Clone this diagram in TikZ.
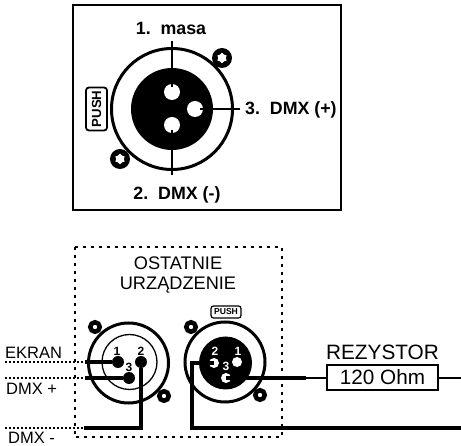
\documentclass[tikz,border=0pt]{standalone}
\usepackage{fontspec}
\setmainfont{Liberation Sans}
\usetikzlibrary{positioning,calc,shapes.geometric}

\tikzset{
  hole/.style={circle,fill=white,inner sep=0pt},
  solid pin/.style={circle,fill=black,inner sep=0pt,minimum size=12pt},
  screw/.style={circle,draw,line width=4.5pt,fill=white,inner sep=0pt,minimum size=9.5pt},
  big screw/.style={circle,fill=black,inner sep=0pt,minimum size=20pt},
  screw star/.style={star,star points=6,star point ratio=1.35,fill=white,inner sep=0pt,minimum size=10.5pt},
  ring/.style={circle,draw,inner sep=0pt},
  title/.style={inner sep=0pt,font=\fontsize{17.8}{20}\selectfont\bfseries},
  plain/.style={inner sep=0pt,font=\fontsize{16.5}{18}\selectfont},
  digit/.style={inner sep=0pt,font=\fontsize{12}{12}\selectfont\bfseries},
  thickwire/.style={line width=3.2pt},
  thinwire/.style={line width=1.5pt},
  dotwire/.style={line width=2.4pt,dash pattern=on 2pt off 2pt},
  pushbox/.style={draw,rounded corners=3pt,line width=1.6pt,inner sep=0pt,font=\bfseries}
}

\begin{document}
\begin{tikzpicture}[x=1pt,y=-1pt]
  \useasboundingbox (0,0) rectangle (461,446);

  % upper socket
  \node [draw,line width=2.4pt,minimum width=268pt,minimum height=205pt] (frame) at (207,107.5) {};
  \node [ring,line width=3pt,minimum size=121pt] (socket) at (172,109) {};
  \node [circle,fill=black,inner sep=0pt,minimum size=82pt] (face) at (172,109) {};
  \node [hole,minimum size=16pt] (pin-1) at (172,92) {};
  \node [hole,minimum size=16pt] (pin-2) at (172,125) {};
  \node [hole,minimum size=16pt] (pin-3) at (195,109) {};
  \node [big screw] (screw-a) at (222,58) {};
  \node [big screw] (screw-b) at (120,159) {};
  \node [screw star] (star-a) at (screw-a) {};
  \node [screw star] (star-b) at (screw-b) {};
  \node [pushbox,line width=1.8pt,minimum width=21pt,minimum height=43pt] (push-a) at (96.5,109) {};
  \node [inner sep=0pt,rotate=90,font=\fontsize{13.2}{14}\selectfont\bfseries] (push-a-text) at (push-a) {PUSH};

  \node [title] (label-1) at (171,28) {1.\ \ masa};
  \node [title,anchor=west] (label-3) at (245,110) {3.\ \ DMX (+)};
  \node [title] (label-2) at (177,195) {2.\ \ DMX (-)};

  \coordinate (end-1) at (172,41);
  \coordinate (end-2) at (172,175);
  \coordinate (end-3) at (240,109);
  \draw [thinwire] (end-1) -- ([yshift=-3pt]pin-1.north);
  \draw [thinwire] (end-2) -- ([yshift=3pt]pin-2.south);
  \draw [thinwire] (end-3) -- ([xshift=-3pt]pin-3.east);

  % last device
  \node [minimum width=207pt,minimum height=190pt] (device) at (178.5,342) {};
  \draw [line width=1.8pt,dash pattern=on 3pt off 5pt] (device.north west) rectangle (device.south east);
  \node [plain,font=\fontsize{18.2}{20}\selectfont] (name-a) at (178,263) {OSTATNIE};
  \node [plain,font=\fontsize{18.2}{20}\selectfont] (name-b) [below=7pt of name-a] {URZĄDZENIE};

  % left plug
  \node [ring,line width=3pt,minimum size=80pt] (plug) at (128.5,363) {};
  \node [ring,line width=1.3pt,minimum size=55pt] (plug-in) at (129.5,362) {};
  \node [solid pin] (lp-1) at (118,362) {};
  \node [solid pin] (lp-2) at (141,362) {};
  \node [solid pin] (lp-3) at (129,378) {};
  \node [screw] (lscrew-a) at (95,327) {};
  \node [screw] (lscrew-b) at (164,396) {};
  \node [digit] (ld-1) at (117,351) {1};
  \node [digit] (ld-2) at (141,351) {2};
  \node [digit] (ld-3) at (129,367) {3};

  \coordinate (ekran-a) at (5,362);
  \coordinate (ekran-b) at (85,362);
  \coordinate (plus-a) at (5,378);
  \coordinate (plus-b) at (85,378);
  \coordinate (minus-a) at (5,428);
  \coordinate (minus-b) at (84,428);
  \draw [dotwire] (ekran-a) -- (ekran-b);
  \draw [dotwire] (plus-a) -- (plus-b);
  \draw [dotwire] (minus-a) -- (minus-b);
  \draw [thickwire] (ekran-b) -- (lp-1);
  \draw [thickwire] (plus-b) -- (lp-3);
  \draw [thickwire,line width=3.6pt] (minus-b) -| (lp-2);

  \node [plain,anchor=west] (ekran) at (5,353) {EKRAN};
  \node [plain,anchor=west] (dmx-plus) at (6,389) {DMX +};
  \node [plain,anchor=west] (dmx-minus) at (8,438) {DMX -};

  % right socket
  \node [ring,line width=3pt,minimum size=80pt] (jack) at (225,362) {};
  \node [circle,fill=black,inner sep=0pt,minimum size=53pt] (jack-in) at (225.5,363) {};
  \node [hole,minimum size=10pt] (rp-1) at (237,362) {};
  \node [hole,minimum size=10pt] (rp-2) at (214,363) {};
  \node [hole,minimum size=10pt] (rp-3) at (226,378) {};
  \node [screw] (rscrew-a) at (191,327) {};
  \node [screw] (rscrew-b) at (260,395) {};
  \node [pushbox,line width=1.2pt,rounded corners=2.5pt,minimum width=30pt,minimum height=12pt,font=\fontsize{8.6}{9}\selectfont\bfseries] (push-b) at (226,312) {PUSH};
  \node [digit,text=white] (rd-1) at (238,351) {1};
  \node [digit,text=white] (rd-2) at (215,351) {2};
  \node [digit,text=white] (rd-3) at (226,366) {3};

  % resistor
  \node [draw,line width=1.6pt,minimum width=111pt,minimum height=25pt,inner sep=0pt,font=\fontsize{20.7}{22}\selectfont] (resistor) at (382.5,377.5) {120 Ohm};
  \node [plain,font=\fontsize{20.8}{22}\selectfont] (resistor-name) [above=4pt of resistor] {REZYSTOR};

  \coordinate (split) at (306,378);
  \coordinate (out-a) at (461,378);
  \coordinate (out-b) at (461,428);
  \coordinate (bend) at (192,428);
  \draw [thickwire] (rp-3.center) -- (split);
  \draw [thinwire] (split) -- (split -| resistor.west);
  \draw [thinwire] (out-a -| resistor.east) -- (out-a);
  \draw [thickwire] (rp-2.center) -| (bend) -- (out-b);
\end{tikzpicture}
\end{document}
